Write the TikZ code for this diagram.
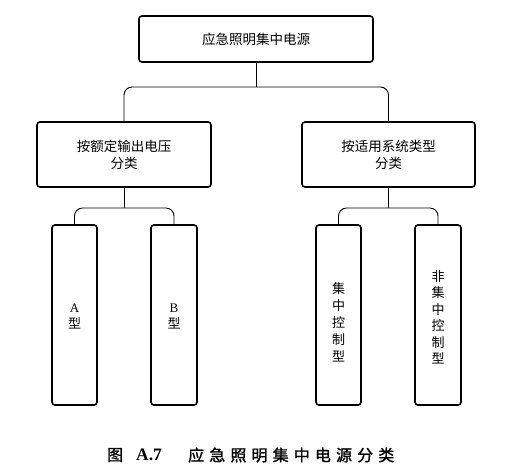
\documentclass[tikz,border=0pt]{standalone}
\usepackage{fontspec}
\newfontfamily\cjk{Noto Sans CJK SC}
\newfontfamily\cjkcapA[FakeBold=1.2]{Noto Sans CJK SC}
\newfontfamily\cjkcap[LetterSpace=32,FakeBold=1.2]{Noto Sans CJK SC}
\newfontfamily\latserif{Liberation Serif}
\begin{document}
\begin{tikzpicture}[x=1pt,y=-1pt,
  box/.style={draw, line width=1.6pt, rounded corners=3pt, inner sep=0pt, align=center,
    font=\cjk\fontsize{13.5}{17}\selectfont},
  conn/.style={line width=0.9pt, rounded corners=8pt}]
\useasboundingbox (0,0) rectangle (510,475);
\node[box, minimum width=234pt, minimum height=46pt] (top) at (256,39) {应急照明集中电源};
\node[box, minimum width=174pt, minimum height=65pt] (l2a) at (124,154.5) {按额定输出电压\\分类};
\node[box, minimum width=173pt, minimum height=65pt] (l2b) at (388.5,154.5) {按适用系统类型\\分类};
\node[box, minimum width=45pt, minimum height=180pt] (a) at (74.5,315) {};
\node[box, minimum width=46pt, minimum height=180pt] (b) at (174,315) {};
\node[box, minimum width=45pt, minimum height=180pt] (c) at (338.5,315) {};
\node[box, minimum width=46pt, minimum height=180pt] (d) at (438,315) {};
\node[align=center, inner sep=0pt, font=\cjk\fontsize{13}{16.5}\selectfont] (ta) at (74.5,316.5) {{\latserif A}\\型};
\node[align=center, inner sep=0pt, font=\cjk\fontsize{13}{16.5}\selectfont] (tb) at (174,316.5) {{\latserif B}\\型};
\node[align=center, inner sep=0pt, font=\cjk\fontsize{13}{17}\selectfont] (tc) at (338.5,322) {集\\中\\控\\制\\型};
\node[align=center, inner sep=0pt, font=\cjk\fontsize{13}{16.5}\selectfont] (td) at (438,317.5) {非\\集\\中\\控\\制\\型};
\coordinate (j1) at (256,87);
\coordinate (j2) at (124,208);
\coordinate (j3) at (388.5,208);
\draw[conn] (top.south) -- (j1);
\draw[conn] (l2a.north) |- (j1) -| (l2b.north);
\draw[conn] (l2a.south) -- (j2);
\draw[conn] (a.north) |- (j2) -| (b.north);
\draw[conn] (l2b.south) -- (j3);
\draw[conn] (c.north) |- (j3) -| (d.north);
\node[anchor=west, inner sep=0pt, font=\cjkcapA\fontsize{16}{18}\selectfont] (cap1) at (107,455) {图\hspace{13pt}{\latserif\bfseries\fontsize{17.5}{18}\selectfont A.7}};
\node[anchor=west, inner sep=0pt, font=\cjkcap\fontsize{16}{18}\selectfont] (cap2) at (188,455) {应急照明集中电源分类};
\end{tikzpicture}
\end{document}
